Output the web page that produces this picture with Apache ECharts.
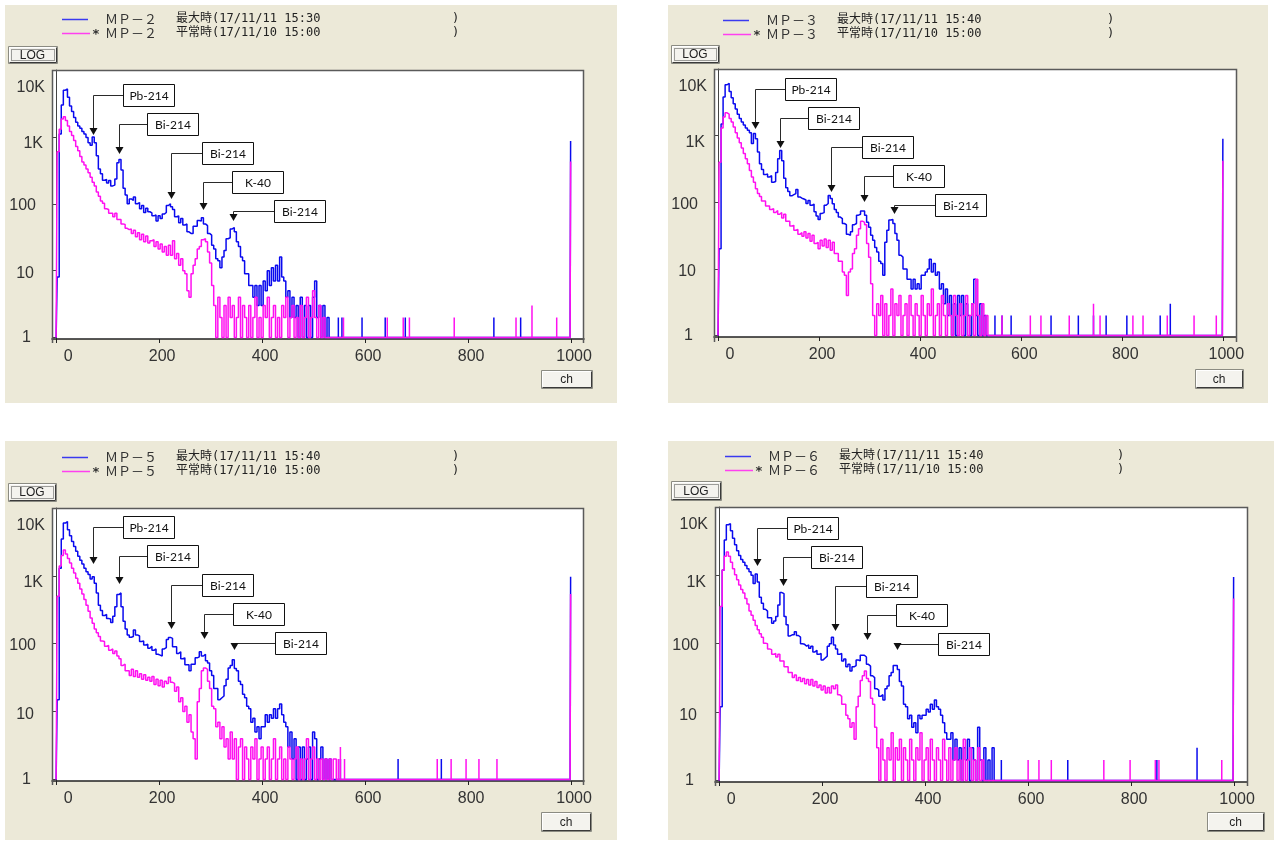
<!DOCTYPE html>
<html>
<head>
<meta charset="utf-8">
<script src="https://cdn.jsdelivr.net/npm/echarts@6/dist/echarts.min.js"></script>
<style>
html,body{margin:0;padding:0;background:#fff;}
#chart{width:1274px;height:841px;}
</style>
</head>
<body>
<div id="chart"></div>
<script>
// ---- axis ticks ----
const chTicks = [0, 200, 400, 600, 800, 1000];
const countTicks = [1, 10, 100, 1000, 10000];
const countTickLabels = ['1', '10', '100', '1K', '10K'];
const STEP = 4;            // channel spacing of the spectrum arrays
const LAST_CH = 1000;      // overflow channel

// ---- monitoring posts ----
const stations = ['ＭＰ－２', 'ＭＰ－３', 'ＭＰ－５', 'ＭＰ－６'];
const maxTimes = ['17/11/11 15:30', '17/11/11 15:40', '17/11/11 15:40', '17/11/11 15:40'];
const normalTimes = ['17/11/10 15:00', '17/11/10 15:00', '17/11/10 15:00', '17/11/10 15:00'];

// ---- spectra: counts for ch 0,4,8,...,540 (20 channel-steps per row) ----
const mp2Max = [
 1,8,1100,3000,5000,5200,3900,2900,2400,1950,1650,1450,1350,1200,1100,980,820,750,1000,820,
 520,330,280,225,230,205,222,185,190,235,410,460,320,170,135,100,118,112,126,100,
 104,84,94,74,86,76,73,66,68,55,66,60,70,74,94,100,90,82,64,66,
 52,60,48,50,38,36,36,46,46,56,55,62,50,47,36,34,24,21,15,14,
 11,16,20,30,31,42,44,38,27,23,16,14,9,9,6,6,4,6,3,6,
 3,7,5,10,6,11,7,12,7,16,8,7,4,5,2,4,2,3,1,4,
 1,3,1,3,1,4,7,2,3,1,3,1,2,1,1,1];
const mp2Normal = [
 1,600,1300,1850,2000,1750,1450,1200,1050,880,720,620,510,420,380,330,290,250,210,185,
 150,130,110,102,84,82,72,72,64,72,58,58,50,49,43,41,42,36,40,32,
 37,29,35,27,33,26,28,29,23,27,21,25,19,23,17,24,17,28,15,18,
 12,15,10,9,5,4,9,12,15,21,23,29,30,27,19,13,6,3,1,4,
 2,1,3,1,4,2,3,1,2,4,1,3,2,1,3,1,2,4,1,2,
 1,3,2,4,1,2,3,1,2,1,3,2,4,1,2,3,1,2,1,3,
 1,2,4,1,2,5,2,1,3,1,2,1,1,1,1,1];
const mp3Max = [
 1,20,1500,3800,5800,6100,4600,3700,3000,2500,2100,1800,1600,1450,1300,1200,1100,760,1080,900,
 570,380,310,260,265,240,250,200,205,280,450,600,420,230,165,145,125,130,135,155,
 120,115,112,108,96,106,90,94,72,62,55,68,70,90,96,126,114,95,78,70,
 60,57,48,46,33,32,36,46,48,64,66,74,74,64,50,42,32,27,21,18,
 13,12,8,25,38,54,55,48,34,27,16,15,10,10,7,7,5,7,5,6,
 5,8,8,9,10,14,9,12,8,9,5,6,3,5,2,4,1,3,1,4,
 2,4,1,3,2,1,3,7,2,1,3,1,2,1,1,1];
const mp3Normal = [
 1,400,1300,1900,2200,2100,1800,1600,1350,1100,920,780,650,540,450,380,300,240,200,160,
 135,122,104,104,88,88,78,80,70,75,66,70,58,66,52,52,44,45,38,39,
 33,35,31,36,29,34,26,32,24,25,20,27,22,28,21,27,19,25,17,17,
 13,13,9,8,4,9,10,17,20,32,40,52,50,46,24,15,6,2,1,3,
 2,4,1,3,1,2,5,1,3,2,4,1,2,3,1,4,2,1,3,2,
 1,4,2,1,3,2,5,1,2,3,1,4,2,1,3,2,1,4,2,1,
 3,1,2,4,1,2,3,1,7,2,1,3,1,2,1,1];
const mp5Max = [
 1,15,1300,3500,6000,6300,4800,3900,3200,2700,2300,1950,1700,1500,1300,1150,1050,900,970,780,
 560,370,310,260,270,235,232,205,255,350,530,560,350,215,165,135,125,128,160,135,
 130,108,110,96,98,86,92,80,84,70,68,66,84,88,115,124,120,90,90,72,
 76,60,62,49,49,40,50,50,62,64,76,66,70,56,52,40,34,22,22,15,
 16,17,24,30,44,48,58,43,40,28,25,18,16,12,11,7,8,5,6,4,
 6,6,9,7,9,8,11,8,11,13,9,7,6,3,5,2,4,1,3,1,
 3,1,2,3,1,5,4,1,2,3,1,2,1,2,1,1];
const mp5Normal = [
 1,500,1400,2000,2400,2100,1800,1550,1300,1100,920,780,640,540,450,370,300,240,200,165,
 145,128,110,108,92,94,80,84,72,78,66,60,48,50,40,40,34,42,33,40,
 32,36,30,35,29,32,28,33,25,30,24,29,23,28,26,32,27,26,20,23,
 14,16,10,12,7,9,5,4,2,14,22,40,44,42,28,22,12,11,6,7,
 4,6,3,4,2,5,2,4,1,3,4,1,3,2,1,3,2,4,1,2,
 3,1,2,3,1,2,4,1,2,3,1,2,1,3,2,1,2,3,1,2,
 1,2,4,1,2,3,1,2,1,2,1,2,1,2,1,2];
const mp6Max = [
 1,12,1200,3300,5500,5700,4500,3500,2800,2300,1950,1700,1550,1400,1250,1130,1000,760,1050,800,
 480,390,320,300,240,240,200,215,250,370,560,540,250,190,130,135,135,150,132,125,
 100,98,92,96,86,92,76,80,70,72,58,62,66,92,100,124,96,84,70,72,
 56,60,46,50,40,46,48,58,56,68,68,64,50,47,34,32,22,21,17,18,
 15,22,24,34,38,48,48,42,28,24,13,12,8,9,6,7,5,9,8,9,
 9,11,10,13,11,15,12,11,9,7,5,4,4,5,2,4,2,3,1,3,
 2,4,1,3,2,1,6,2,1,3,1,2,1,3,1,1];
const mp6Normal = [
 1,350,1200,1900,2200,1900,1550,1250,1020,860,720,620,550,460,380,300,260,220,185,160,
 140,124,102,100,84,82,70,72,64,70,56,56,46,46,38,38,32,35,29,32,
 28,31,26,30,25,30,24,28,23,25,21,24,19,23,19,24,22,25,18,17,
 13,13,9,8,6,7,4,12,17,29,34,40,31,28,16,13,6,3,1,4,
 2,1,3,2,5,1,3,2,4,1,3,2,1,4,2,1,3,2,5,1,
 2,3,1,4,2,1,3,2,1,4,2,1,3,1,2,3,1,2,1,4,
 1,2,3,1,2,1,3,1,2,1,1,1,1,1,1,1];

// ---- isolated counts above ch 540: [channel, count] ----
const mp2MaxSpikes = [[548,2],[555,2],[594,2],[639,2],[678,2],[850,2],[902,2]];
const mp2NormalSpikes = [[558,2],[643,2],[674,2],[686,2],[773,2],[893,2],[924,3],[972,2]];
const mp3MaxSpikes = [[548,2],[562,2],[580,2],[659,2],[713,2],[743,2],[768,2],[809,2],[875,2],[895,3]];
const mp3NormalSpikes = [[562,2],[618,2],[639,2],[695,2],[743,3],[756,2],[821,2],[841,2],[889,2],[942,2],[986,2]];
const mp5MaxSpikes = [[552,2],[664,2],[748,2]];
const mp5NormalSpikes = [[548,2],[552,3],[560,2],[740,2],[767,2],[796,2],[821,2],[856,2]];
const mp6MaxSpikes = [[548,2],[677,2],[850,2],[928,3]];
const mp6NormalSpikes = [[600,2],[621,2],[645,2],[747,2],[798,2],[847,2],[854,2],[976,2]];

// ---- overflow channel counts ----
const lastMax = [870, 900, 970, 950];
const lastNormal = [430, 420, 540, 460];

// ---- labelled peaks: [channel, count at arrow tip] ----
const peakNames = ['Pb-214', 'Bi-214', 'Bi-214', 'K-40', 'Bi-214'];
const mp2Peaks = [[72,1070],[122,550],[223,117],[285,80],[344,55]];
const mp3Peaks = [[73,1260],[123,655],[224,144],[289,101],[349,67]];
const mp5Peaks = [[72,1480],[123,770],[223,165],[287,117],[345,80]];
const mp6Peaks = [[74,1350],[124,710],[225,155],[287,115],[346,80]];

const maxSets = [mp2Max, mp3Max, mp5Max, mp6Max];
const normalSets = [mp2Normal, mp3Normal, mp5Normal, mp6Normal];
const maxSpikeSets = [mp2MaxSpikes, mp3MaxSpikes, mp5MaxSpikes, mp6MaxSpikes];
const normalSpikeSets = [mp2NormalSpikes, mp3NormalSpikes, mp5NormalSpikes, mp6NormalSpikes];
const peakSets = [mp2Peaks, mp3Peaks, mp5Peaks, mp6Peaks];

// ---- panel layout (pixels) ----
const panels = [
  {bg:[5,5,612,398], frame:[52,70,584,343], grid:{left:52,top:70,width:532,height:269}, lx:0, ly:0, rparen:452, log:[8,46,49,17], ch:[541,370,51,18], firstBox:25},
  {bg:[668,5,600,398], frame:[714,69,1237,342], grid:{left:714,top:69,width:522,height:268}, lx:661, ly:1, rparen:1107, log:[671,45,48,18], ch:[1195,369,48,19], firstBox:20},
  {bg:[5,441,612,399], frame:[52,508,584,785], grid:{left:52,top:508,width:532,height:273}, lx:0, ly:438, rparen:452, log:[8,483,48,18], ch:[541,812,50,19], firstBox:19},
  {bg:[668,441,606,399], frame:[715,507,1248,786], grid:{left:715,top:507,width:532,height:275}, lx:663, ly:437, rparen:1117, log:[671,481,50,19], ch:[1207,812,57,19], firstBox:21}
];
const boxGaps = [30, 28, 31, 29, 41];
const BOX_W = 51, BOX_H = 22, BOX_STEP = 29;

const BLUE = '#0a0aee';
const PINK = '#ff10f0';
const PANEL_BG = '#ECE9D8';
const NARROW = "'Liberation Sans Narrow','Arial Narrow','Liberation Sans',sans-serif";
const MONO_JP = "'DejaVu Sans Mono','Noto Sans CJK JP',monospace";

// histogram points: main channels, isolated counts, then the overflow channel
function spectrum(vals, spikes, lastVal) {
  const pts = vals.map((v, i) => [i * STEP, v]);
  spikes.forEach(([c, v]) => { pts.push([c, 1], [c, v], [c, 1]); });
  pts.push([LAST_CH - 2, 1], [LAST_CH, lastVal]);
  return pts;
}

const chart = echarts.init(document.getElementById('chart'), null, {renderer: 'canvas'});

const grids = [], xAxes = [], yAxes = [], series = [];
const labelColor = '#333';
// count labels: plain numbers sit left of the "K" labels; 10K hangs below its tick
const yRich = {
  r0: {padding: [0, 14, 0, 0]},
  r1: {padding: [6, 11, 0, 0]},
  r2: {padding: [4, 9, 0, 0]},
  r3: {padding: [14, 2, 0, 0]},
  r4: {padding: [36, 0, 0, 0]}
};
Object.values(yRich).forEach(s => Object.assign(s, {fontSize: 16, fontFamily: NARROW, color: labelColor, align: 'right'}));

panels.forEach((p, k) => {
  grids.push(Object.assign({containLabel: false}, p.grid));
  xAxes.push({
    type: 'value', gridIndex: k, min: -8, max: 1025,
    axisLine: {show: true, onZero: false, lineStyle: {color: '#222', width: 1.5}},
    axisTick: {show: true, customValues: chTicks, length: 4, lineStyle: {color: '#222'}},
    axisLabel: {
      customValues: chTicks, margin: 10,
      formatter: v => v === 0 ? '{z|0}' : '{n|' + v + '}',
      rich: {
        z: {padding: [0, 0, 0, 24], fontSize: 16, fontFamily: NARROW, color: labelColor},
        n: {padding: [0, 0, 0, 6], fontSize: 16, fontFamily: NARROW, color: labelColor}
      }
    },
    splitLine: {show: false}
  });
  yAxes.push({
    type: 'log', logBase: 10, gridIndex: k, min: 0.95, max: 10000,
    axisLine: {show: true, onZero: true, lineStyle: {color: '#444', width: 1}},
    axisTick: {show: true, customValues: countTicks, length: 4, lineStyle: {color: '#444'}},
    axisLabel: {
      customValues: countTicks, margin: 7, align: 'right',
      formatter: v => {
        const i = Math.round(Math.log10(v));
        return '{r' + i + '|' + countTickLabels[i] + '}';
      },
      rich: yRich
    },
    splitLine: {show: false}
  });
  series.push({
    type: 'line', xAxisIndex: k, yAxisIndex: k, showSymbol: false, silent: true, step: 'middle',
    data: spectrum(maxSets[k], maxSpikeSets[k], lastMax[k]),
    lineStyle: {color: BLUE, width: 1.5}, z: 2
  });
  series.push({
    type: 'line', xAxisIndex: k, yAxisIndex: k, showSymbol: false, silent: true, step: 'middle',
    data: spectrum(normalSets[k], normalSpikeSets[k], lastNormal[k]),
    lineStyle: {color: PINK, width: 1.5}, z: 3
  });
});

chart.setOption({
  animation: false,
  backgroundColor: '#ffffff',
  grid: grids, xAxis: xAxes, yAxis: yAxes, series: series
});

// ---- static decorations: panel backgrounds, frames, legends, buttons ----
function button(x, y, w, h, label, dotted) {
  const els = [
    {type: 'rect', z: 5, shape: {x: x + 0.5, y: y + 0.5, width: w, height: h}, style: {fill: '#F4F3EE', stroke: '#8b8b82', lineWidth: 1}},
    {type: 'polyline', z: 6, shape: {points: [[x + 1.5, y + h - 0.5], [x + w - 0.5, y + h - 0.5], [x + w - 0.5, y + 1.5]]}, style: {stroke: '#3a3a3a', lineWidth: 1, fill: null}},
    {type: 'polyline', z: 6, shape: {points: [[x + 1.5, y + h - 1.5], [x + 1.5, y + 1.5], [x + w - 1.5, y + 1.5]]}, style: {stroke: '#ffffff', lineWidth: 1, fill: null}}
  ];
  if (dotted) {
    els.push({type: 'rect', z: 6, shape: {x: x + 3.5, y: y + 3.5, width: w - 6, height: h - 6}, style: {fill: null, stroke: '#444', lineWidth: 1, lineDash: [1, 1]}});
  }
  els.push({type: 'text', z: 7, style: {text: label, x: x + w / 2, y: y + h / 2 + 1, textAlign: 'center', textVerticalAlign: 'middle', align: 'center', verticalAlign: 'middle', font: '12px ' + NARROW, fill: '#222'}});
  return els;
}

function txt(s, x, y, font, fill) {
  return {type: 'text', z: 7, style: {text: s, x: x, y: y, textAlign: 'left', textVerticalAlign: 'middle', align: 'left', verticalAlign: 'middle', font: font, fill: fill || '#333'}};
}

const staticEls = [];
panels.forEach((p, k) => {
  const [bx, by, bw, bh] = p.bg;
  staticEls.push({type: 'rect', z: -20, shape: {x: bx, y: by, width: bw, height: bh}, style: {fill: PANEL_BG}});
  const [fx0, fy0, fx1, fy1] = p.frame;
  staticEls.push({type: 'rect', z: -10, shape: {x: fx0, y: fy0, width: fx1 - fx0, height: p.grid.top + p.grid.height - fy0}, style: {fill: '#ffffff'}});
  staticEls.push({type: 'polyline', z: 30, shape: {points: [[fx0 + 0.5, fy1], [fx0 + 0.5, fy0 + 0.5], [fx1 - 0.5, fy0 + 0.5], [fx1 - 0.5, fy1]]}, style: {stroke: '#5a5a5a', lineWidth: 1.5, fill: null}});

  // legend
  const y1 = 19 + p.ly, y2 = 33 + p.ly, lx = p.lx;
  staticEls.push({type: 'line', z: 7, shape: {x1: 62 + lx, y1: y1 + 0.5, x2: 88 + lx, y2: y1 + 0.5}, style: {stroke: '#3a3af0', lineWidth: 1.5}});
  staticEls.push({type: 'line', z: 7, shape: {x1: 62 + lx, y1: y2 + 0.5, x2: 90 + lx, y2: y2 + 0.5}, style: {stroke: '#ff40f0', lineWidth: 1.5}});
  staticEls.push(txt('*', 92 + lx, y2 + 2, 'bold 13px ' + MONO_JP, '#333'));
  staticEls.push(txt(stations[k], 105 + lx, y1, '13px "Noto Sans CJK JP"', '#333'));
  staticEls.push(txt(stations[k], 105 + lx, y2, '13px "Noto Sans CJK JP"', '#333'));
  staticEls.push(txt('最大時(' + maxTimes[k], 176 + lx, y1, '12px ' + MONO_JP, '#222'));
  staticEls.push(txt('平常時(' + normalTimes[k], 176 + lx, y2, '12px ' + MONO_JP, '#222'));
  staticEls.push(txt(')', p.rparen, y1, '12px ' + MONO_JP, '#222'));
  staticEls.push(txt(')', p.rparen, y2, '12px ' + MONO_JP, '#222'));

  // buttons
  staticEls.push(...button(p.log[0], p.log[1], p.log[2], p.log[3], 'LOG', true));
  staticEls.push(...button(p.ch[0], p.ch[1], p.ch[2], p.ch[3], 'ch', false));
});

// ---- peak call-outs, anchored to the data coordinates of each peak ----
const calloutEls = [];
panels.forEach((p, k) => {
  peakSets[k].forEach((pk, i) => {
    const [tx, ty] = chart.convertToPixel({gridIndex: k}, pk);
    const x = Math.round(tx) + 0.5;
    const tip = Math.round(ty);
    const boxLeft = Math.round(tx) + boxGaps[i];
    const cy = p.grid.top + p.firstBox + BOX_STEP * i;
    calloutEls.push({type: 'polyline', z: 40, shape: {points: [[boxLeft, cy + 0.5], [x, cy + 0.5], [x, tip - 6]]}, style: {stroke: '#2a2a2a', lineWidth: 1, fill: null}});
    calloutEls.push({type: 'polygon', z: 41, shape: {points: [[x - 4, tip - 7], [x + 4, tip - 7], [x, tip]]}, style: {fill: '#111'}});
    calloutEls.push({type: 'rect', z: 42, shape: {x: boxLeft + 0.5, y: cy - BOX_H / 2 + 0.5, width: BOX_W, height: BOX_H}, style: {fill: '#ffffff', stroke: '#111', lineWidth: 1}});
    calloutEls.push({type: 'text', z: 43, style: {text: peakNames[i], x: boxLeft + BOX_W / 2 + 0.5, y: cy + 1, textAlign: 'center', textVerticalAlign: 'middle', align: 'center', verticalAlign: 'middle', font: '12px Lato, "Open Sans", sans-serif', fill: '#111'}});
  });
});

chart.setOption({graphic: {elements: staticEls.concat(calloutEls)}});
</script>
</body>
</html>
